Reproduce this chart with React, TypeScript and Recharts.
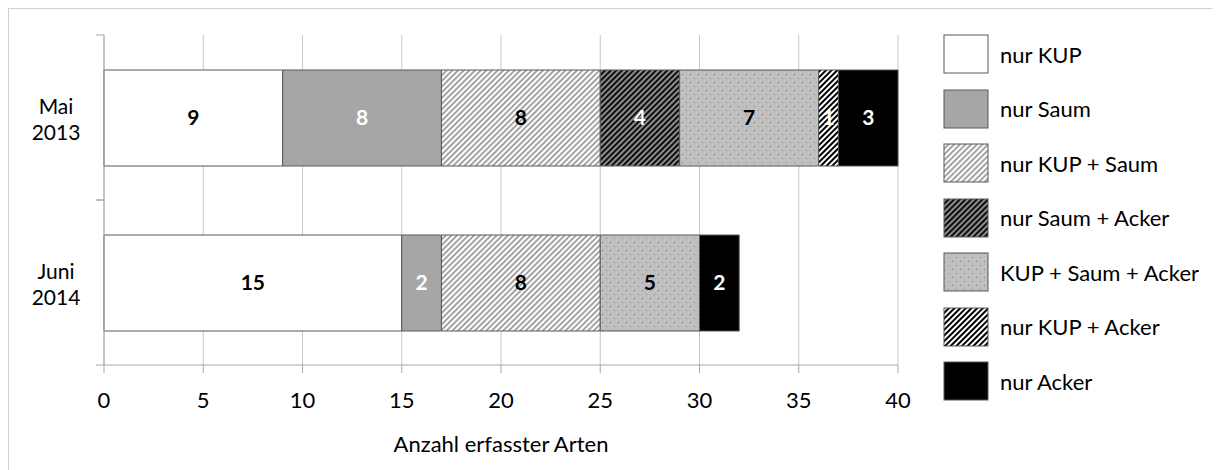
import React from 'react';
import { BarChart, Bar, XAxis, YAxis, CartesianGrid, LabelList, Legend, Label } from 'recharts';

const periods = ['Mai\n2013', 'Juni\n2014'];
const seriesNames = ['nur KUP', 'nur Saum', 'nur KUP + Saum', 'nur Saum + Acker', 'KUP + Saum + Acker', 'nur KUP + Acker', 'nur Acker'];
const nurKUP = [9, 15];
const nurSaum = [8, 2];
const nurKUPSaum = [8, 8];
const nurSaumAcker = [4, null];
const kupSaumAcker = [7, 5];
const nurKUPAcker = [1, null];
const nurAcker = [3, 2];
const xTicks = [0, 5, 10, 15, 20, 25, 30, 35, 40];

const seriesValues = [nurKUP, nurSaum, nurKUPSaum, nurSaumAcker, kupSaumAcker, nurKUPAcker, nurAcker];
const seriesKeys = ['s0', 's1', 's2', 's3', 's4', 's5', 's6'];
const fills = ['#ffffff', '#a6a6a6', 'url(#hatchLight)', 'url(#hatchDark)', 'url(#dots)', 'url(#hatchBW)', '#000000'];
const labelColors = ['#000000', '#ffffff', '#000000', '#ffffff', '#000000', '#ffffff', '#ffffff'];

const data = periods.map((p, i) => {
  const row: any = { period: p };
  seriesKeys.forEach((k, j) => { row[k] = seriesValues[j][i]; });
  return row;
});

const FONT = 'Lato, "Liberation Sans", sans-serif';

const YTick = (props: any) => {
  const { x, y, payload } = props;
  const off = payload.offset ?? 82;
  const lines = String(payload.value).split('\n');
  return (
    <g>
      <line x1={x} x2={x + 8} y1={y - off} y2={y - off} stroke="#a6a6a6" />
      <line x1={x} x2={x + 8} y1={y + off} y2={y + off} stroke="#a6a6a6" />
      <text x={x - 40} y={y} textAnchor="middle" fontFamily={FONT} fontSize={21} fill="#000">
        <tspan x={x - 40} dy={-4}>{lines[0]}</tspan>
        <tspan x={x - 40} dy={26}>{lines[1]}</tspan>
      </text>
    </g>
  );
};

const LegendContent = () => (
  <div style={{ fontFamily: FONT }}>
    {seriesNames.map((n, i) => (
      <div key={n} style={{ display: 'flex', alignItems: 'center', height: 54.5 }}>
        <svg width={46} height={40} style={{ display: 'block' }}>
          <rect x={1} y={1} width={44} height={38} fill={fills[i]} stroke="#595959" strokeWidth={1} />
        </svg>
        <span style={{ marginLeft: 11, fontSize: 22, color: '#000', whiteSpace: 'nowrap' }}>{n}</span>
      </div>
    ))}
  </div>
);

export default function App() {
  return (
    <div style={{ position: 'relative', width: 1212, height: 462, borderTop: '1px solid #d0d0d0', borderLeft: '1px solid #d0d0d0', boxSizing: 'border-box' }}>
      <BarChart
        width={1211}
        height={461}
        data={data}
        layout="vertical"
        margin={{ top: 26, right: 52, bottom: 8, left: 0 }}
        style={{ fontFamily: FONT }}
      >
        <defs>
          <pattern id="hatchLight" patternUnits="userSpaceOnUse" width={4} height={4} patternTransform="rotate(45)">
            <rect width={4} height={4} fill="#ffffff" />
            <rect width={1.8} height={4} fill="#9a9a9a" />
          </pattern>
          <pattern id="hatchDark" patternUnits="userSpaceOnUse" width={4} height={4} patternTransform="rotate(45)">
            <rect width={4} height={4} fill="#8c8c8c" />
            <rect width={1.8} height={4} fill="#000000" />
          </pattern>
          <pattern id="hatchBW" patternUnits="userSpaceOnUse" width={4} height={4} patternTransform="rotate(45)">
            <rect width={4} height={4} fill="#ffffff" />
            <rect width={2} height={4} fill="#000000" />
          </pattern>
          <pattern id="dots" patternUnits="userSpaceOnUse" width={8} height={8}>
            <rect width={8} height={8} fill="#bfbfbf" />
            <rect x={1} y={1} width={1} height={1} fill="#808080" />
            <rect x={5} y={5} width={1} height={1} fill="#808080" />
          </pattern>
        </defs>
        <CartesianGrid horizontal={false} stroke="#c8c8c8" />
        <XAxis
          type="number"
          domain={[0, 40]}
          ticks={xTicks}
          interval={0}
          height={97}
          tickSize={8}
          tickMargin={19}
          stroke="#a6a6a6"
          tick={{ fill: '#000', fontSize: 22, fontFamily: FONT }}
        >
          <Label value="Anzahl erfasster Arten" position="insideBottom" offset={10} style={{ fill: '#000', fontSize: 22, fontFamily: FONT }} />
        </XAxis>
        <YAxis
          type="category"
          dataKey="period"
          width={95}
          tickSize={8}
          tickMargin={0}
          tickLine={false}
          stroke="#a6a6a6"
          tick={<YTick />}
        />
        <Legend
          layout="vertical"
          align="right"
          verticalAlign="top"
          content={<LegendContent />}
          wrapperStyle={{ left: 934, top: 18, width: 270 }}
        />
        {seriesKeys.map((k, i) => (
          <Bar
            key={k}
            dataKey={k}
            name={seriesNames[i]}
            stackId="a"
            fill={fills[i]}
            stroke="#595959"
            strokeWidth={1}
            barSize={96}
            isAnimationActive={false}
          >
            <LabelList
              dataKey={k}
              position="center"
              fill={labelColors[i]}
              style={{ fontWeight: 700, fontSize: 21, fontFamily: FONT }}
              formatter={(v: any) => (v ? v : '')}
            />
          </Bar>
        ))}
      </BarChart>
    </div>
  );
}
